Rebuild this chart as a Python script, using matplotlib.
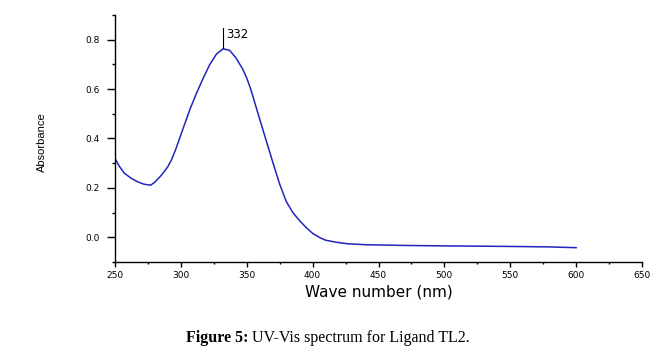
import matplotlib
matplotlib.use("Agg")
import matplotlib.pyplot as plt
from matplotlib.ticker import MultipleLocator

wavelength = [250, 253, 257, 262, 267, 272, 277, 280, 285, 290, 293, 296, 300, 304, 307,
              312, 317, 322, 327, 332, 337, 342, 347, 350, 353, 357.5, 362, 366, 370, 375, 380,
              385, 390, 395, 400, 405, 410, 418, 426, 440, 470, 504, 550, 580, 600]
absorbance = [0.32, 0.29, 0.26, 0.24, 0.225, 0.215, 0.211, 0.222, 0.25, 0.285, 0.315, 0.355,
              0.415, 0.475, 0.52, 0.585, 0.645, 0.70, 0.742, 0.763, 0.757, 0.725, 0.68, 0.645, 0.60, 0.52,
              0.44, 0.37, 0.30, 0.215, 0.145, 0.10, 0.068, 0.04, 0.016, 0.0, -0.012, -0.02,
              -0.026, -0.03, -0.033, -0.035, -0.037, -0.039, -0.042]
peak_label = "332"
peak_x = 332
peak_y = 0.763
xticks = [250, 300, 350, 400, 450, 500, 550, 600, 650]
yticks = [0.0, 0.2, 0.4, 0.6, 0.8]

W, H = 658, 352
fig = plt.figure(figsize=(W / 100, H / 100), dpi=100)
ax = fig.add_axes([115 / W, 1 - 262 / H, 527 / W, 247 / H])

ax.plot(wavelength, absorbance, color="#2323c0", lw=1.1)
ax.set_xlim(250, 650)
ax.set_ylim(-0.1, 0.9)

for s in ["top", "right"]:
    ax.spines[s].set_visible(False)
for s in ["left", "bottom"]:
    ax.spines[s].set_linewidth(1.0)

ax.set_xticks(xticks)
ax.set_xticklabels([str(v) for v in xticks])
ax.set_yticks(yticks)
ax.set_yticklabels([f"{v:.1f}" for v in yticks])
ax.xaxis.set_minor_locator(MultipleLocator(25))
ax.yaxis.set_minor_locator(MultipleLocator(0.1))
ax.tick_params(axis="x", which="major", direction="out", length=3.6, width=1, labelsize=6.5, pad=3)
ax.tick_params(axis="x", which="minor", direction="out", length=1.6, width=1)
ax.tick_params(axis="y", which="major", direction="out", length=5.8, width=1, labelsize=6.5, pad=5)
ax.tick_params(axis="y", which="minor", direction="out", length=2.2, width=1)

ax.set_xlabel("Wave number (nm)", fontsize=11, labelpad=3)

fig.text(42 / W, 1 - 142 / H, "Absorbance", rotation=90, ha="center", va="center",
         fontsize=8, family="Liberation Sans")

# peak annotation
ax.plot([peak_x, peak_x], [peak_y + 0.005, 0.848], color="black", lw=0.8)
ax.annotate(peak_label, xy=(peak_x, 0.848), xytext=(2, 0), textcoords="offset points",
            ha="left", va="top", fontsize=8.5)

# caption
cy = 1 - 338 / H
t1 = fig.text(186 / W, cy, "Figure 5:", ha="left", va="center", fontsize=11.5,
              fontweight="bold", family="Liberation Serif")
fig.canvas.draw()
bb = t1.get_window_extent()
fig.text((bb.x1 + 4) / W, cy, "UV-Vis spectrum for Ligand TL2.", ha="left", va="center",
         fontsize=11.5, family="Liberation Serif")

fig.savefig("out.png", dpi=100)
